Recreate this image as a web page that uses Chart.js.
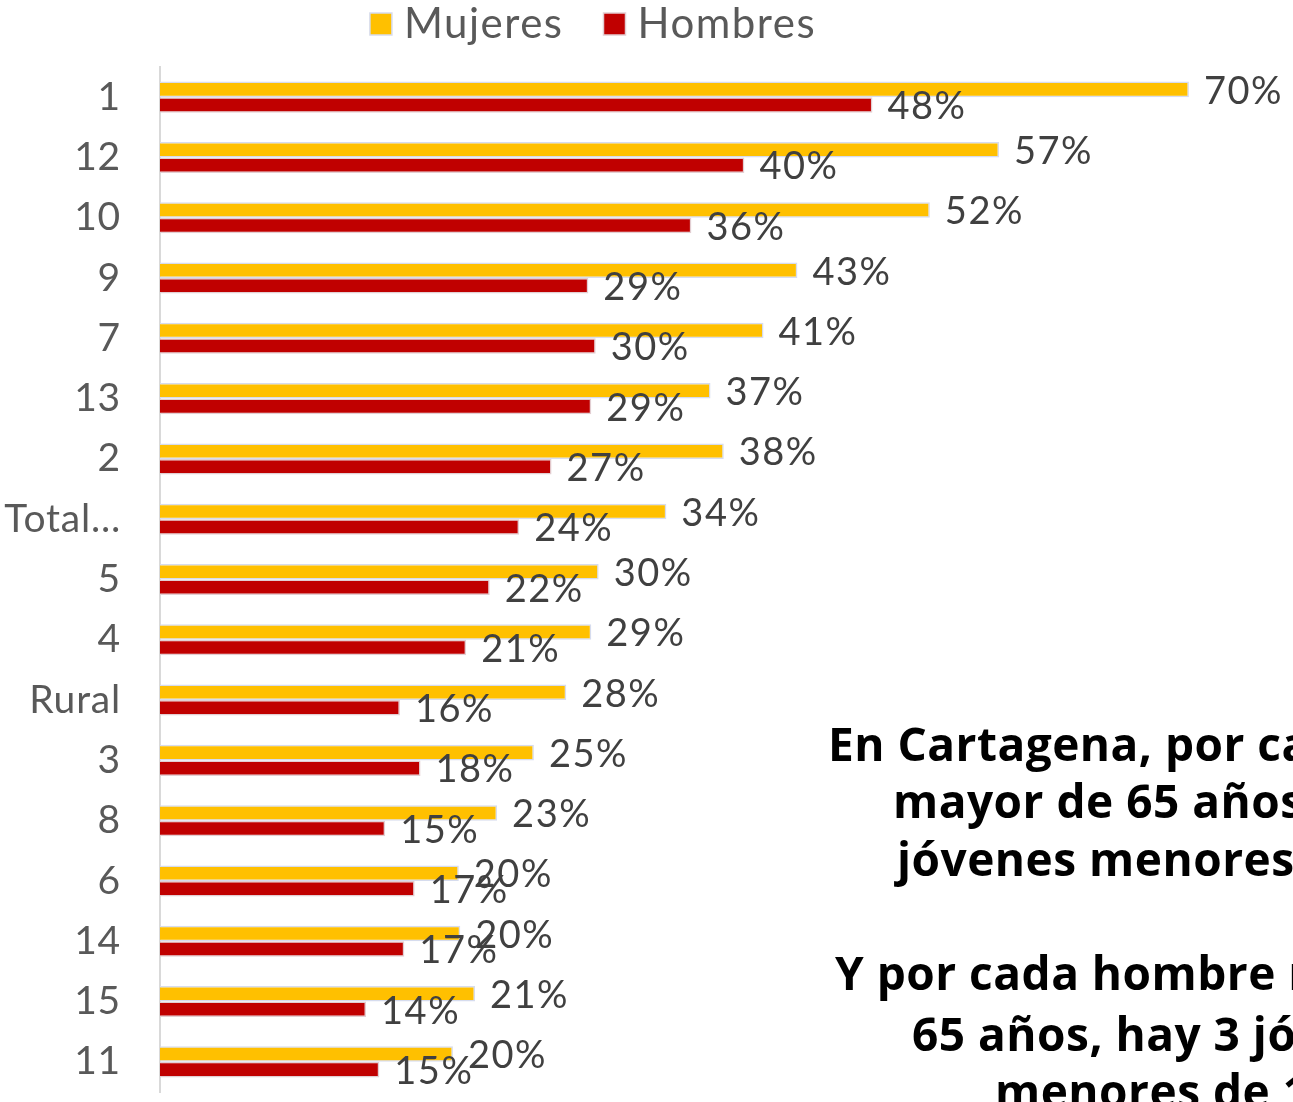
<!DOCTYPE html>
<html>
<head>
<meta charset="utf-8">
<script src="https://cdn.jsdelivr.net/npm/chart.js@4.4.1/dist/chart.umd.min.js"></script>
<style>
  html, body { margin: 0; padding: 0; background: #fff; overflow: hidden; }
  #wrap { width: 1293px; height: 1102px; }
</style>
</head>
<body>
<div id="wrap"><canvas id="myChart" width="1293" height="1102"></canvas></div>
<script>
// categories (top to bottom)
const categories = ['1', '12', '10', '9', '7', '13', '2', 'Total…', '5', '4', 'Rural', '3', '8', '6', '14', '15', '11'];
// values in % (labels show them rounded)
const mujeres = [69.9, 57.0, 52.3, 43.3, 41.0, 37.4, 38.3, 34.4, 29.8, 29.3, 27.6, 25.4, 22.9, 20.3, 20.4, 21.4, 19.9];
const hombres = [48.4, 39.7, 36.1, 29.1, 29.6, 29.3, 26.6, 24.4, 22.4, 20.8, 16.3, 17.7, 15.3, 17.3, 16.6, 14.0, 14.9];
const seriesNames = ['Mujeres', 'Hombres'];
const noteLines = [
  'En Cartagena, por cada',
  'mayor de 65 años, hay',
  'jóvenes menores de',
  'Y por cada hombre mayor de',
  '65 años, hay 3 jóvenes',
  'menores de 15 años'
];

const FONT = 'Lato';

// a bit of tracking so Lato gets closer to the wide original face
const tracking = {
  id: 'tracking',
  beforeDraw(chart) { chart.ctx.letterSpacing = '0.8px'; }
};

// percent labels at the end of every bar
const barLabels = {
  id: 'barLabels',
  afterDatasetsDraw(chart) {
    const ctx = chart.ctx;
    ctx.save();
    ctx.font = '38px ' + FONT;
    ctx.letterSpacing = '1.5px';
    ctx.fillStyle = '#404040';
    ctx.textAlign = 'left';
    ctx.textBaseline = 'middle';
    chart.data.datasets.forEach((ds, i) => {
      chart.getDatasetMeta(i).data.forEach((bar, j) => {
        ctx.fillText(Math.round(ds.data[j]) + '%', bar.x + 15, bar.y + 2);
      });
    });
    ctx.restore();
  }
};

// legend drawn by hand so it can sit left of centre like the original
const topLegend = {
  id: 'topLegend',
  afterDraw(chart) {
    const ctx = chart.ctx;
    ctx.save();
    ctx.font = '42px ' + FONT;
    ctx.letterSpacing = '1.5px';
    ctx.textBaseline = 'alphabetic';
    const box = 22, gap = 12, between = 40;
    const items = chart.data.datasets.map(ds => ({ ds, w: ctx.measureText(ds.label).width }));
    let total = items.reduce((s, it) => s + box + gap + it.w, 0) + between * (items.length - 1);
    let x = 593 - total / 2;
    items.forEach(it => {
      ctx.fillStyle = it.ds.backgroundColor;
      ctx.fillRect(x, 13, box, box);
      ctx.strokeStyle = it.ds.borderColor;
      ctx.lineWidth = 1.5;
      ctx.strokeRect(x, 13, box, box);
      ctx.fillStyle = '#595959';
      ctx.fillText(it.ds.label, x + box + gap, 38);
      x += box + gap + it.w + between;
    });
    ctx.restore();
  }
};

// bold note on the right, cut by the page edge
const sideNote = {
  id: 'sideNote',
  afterDraw(chart) {
    const ctx = chart.ctx;
    const pos = [[828, 761], [893, 818], [897, 876], [835, 990], [912, 1051], [995, 1108]];
    ctx.save();
    ctx.font = 'bold 46px "Open Sans"';
    ctx.letterSpacing = '0.5px';
    ctx.fillStyle = '#000';
    ctx.textAlign = 'left';
    ctx.textBaseline = 'alphabetic';
    noteLines.forEach((t, i) => ctx.fillText(t, pos[i][0], pos[i][1]));
    ctx.restore();
  }
};

const ctx = document.getElementById('myChart').getContext('2d');
const myChart = new Chart(ctx, {
  type: 'bar',
  data: {
    labels: categories,
    datasets: [{
      label: seriesNames[0],
      data: mujeres,
      backgroundColor: '#FFC000',
      borderColor: '#D6DCEE',
      borderWidth: 1.5
    }, {
      label: seriesNames[1],
      data: hombres,
      backgroundColor: '#C00000',
      borderColor: '#E2CED2',
      borderWidth: 1.5
    }]
  },
  options: {
    indexAxis: 'y',
    responsive: false,
    animation: false,
    layout: { padding: { top: 67, right: 29, bottom: 10, left: 0 } },
    datasets: {
      bar: { categoryPercentage: 0.515, barPercentage: 1 }
    },
    scales: {
      x: {
        display: false,
        min: 0,
        max: 75
      },
      y: {
        grid: { display: false, drawTicks: false },
        border: { display: true, color: '#D9D9D9', width: 2 },
        ticks: {
          color: '#595959',
          font: { family: FONT, size: 39 },
          padding: 39,
          autoSkip: false
        },
        afterFit(scale) {
          scale.width = 160;
          scale.paddingTop = 0;
          scale.paddingBottom = 0;
        }
      }
    },
    plugins: {
      legend: { display: false },
      tooltip: { enabled: false }
    }
  },
  plugins: [tracking, barLabels, topLegend, sideNote]
});
</script>
</body>
</html>
